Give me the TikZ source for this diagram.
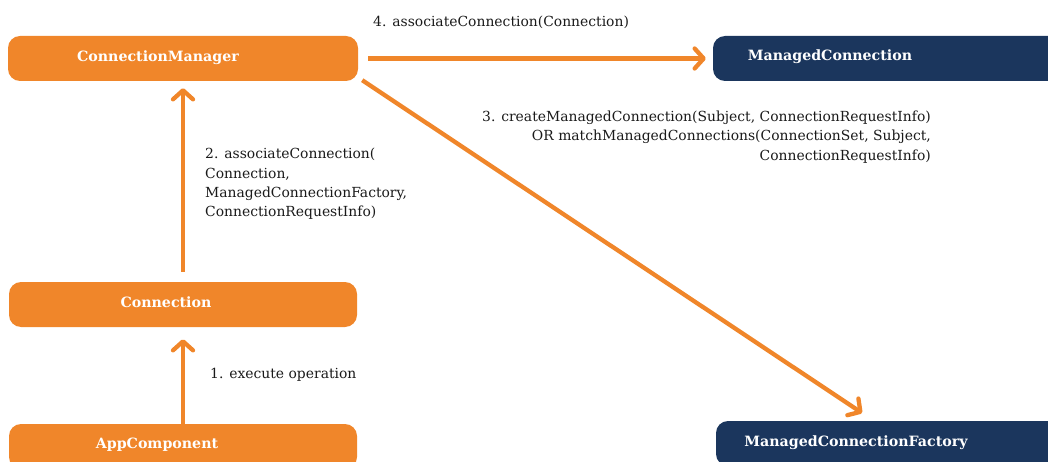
\documentclass[tikz,border=0pt]{standalone}
\usepackage{fontspec}
\setmainfont{DejaVu Serif}
\usetikzlibrary{arrows.meta}
\definecolor{orng}{HTML}{F0862A}
\definecolor{navy}{HTML}{1B365D}
\definecolor{ink}{HTML}{1A1A1A}
\begin{document}
\begin{tikzpicture}[x=1pt,y=-1pt,
  cbox/.style={rounded corners=12pt,minimum height=45pt,inner sep=0pt},
  obox/.style={cbox,fill=orng,minimum width=348pt},
  nbox/.style={cbox,fill=navy,minimum width=360pt},
  lbl/.style={text=white,font=\bfseries\fontsize{14.2}{17}\selectfont,inner sep=0pt},
  msg/.style={text=ink,font=\fontsize{13.9}{19.3}\selectfont,inner sep=0pt},
  arr/.style={orng,line width=4.3pt,-{Straight Barb[length=9pt,width=20pt,round]}}]
\useasboundingbox (0,0) rectangle (1048,462);
\clip (0,0) rectangle (1048,462);
\node[obox,minimum width=350pt] (cm) at (183,58.5) {};
\node[obox] (conn) at (183,304.5) {};
\node[obox] (app) at (183,446.5) {};
\node[nbox] (mc) at (893,58.5) {};
\node[nbox] (mcf) at (896,443.5) {};
\node[lbl] (cmtxt) at (158,57.5) {ConnectionManager};
\node[lbl] (conntxt) at (166,302.5) {Connection};
\node[lbl] (apptxt) at (157,444.5) {AppComponent};
\node[lbl] (mctxt) at (830,56.5) {ManagedConnection};
\node[lbl] (mcftxt) at (856,442.5) {ManagedConnectionFactory};
\draw[arr,shorten <=10pt,shorten >=7pt] (cm.east) -- (mc.west);
\draw[arr,shorten <=10pt,shorten >=7pt] (conn.north) -- (cm.south);
\draw[arr,shorten >=12pt] (app.north) -- (conn.south);
\draw[arr,shorten >=14pt] ([shift={(4,-1)}]cm.south east) -- ([xshift=158pt]mcf.north west);
\node[msg,anchor=west] (l4) at (373,22) {4. associateConnection(Connection)};
\node[msg,anchor=west,align=left] (l2) at (205,184) {2. associateConnection(\\Connection,\\ManagedConnectionFactory,\\ConnectionRequestInfo)};
\node[msg,anchor=west] (l1) at (210,375) {1. execute operation};
\node[msg,anchor=east,align=right] (l3) at (931,137) {3. createManagedConnection(Subject, ConnectionRequestInfo)\\OR matchManagedConnections(ConnectionSet, Subject,\\ConnectionRequestInfo)};
\end{tikzpicture}
\end{document}
